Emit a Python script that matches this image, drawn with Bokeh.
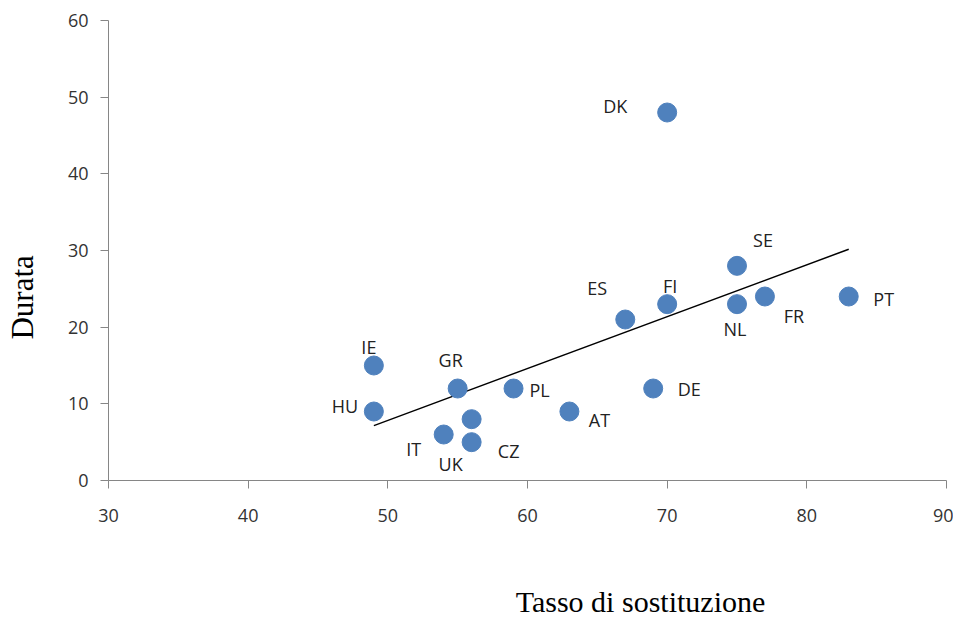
import numpy as np
from bokeh.plotting import figure
from bokeh.layouts import row, column
from bokeh.models import ColumnDataSource, Range1d, FixedTicker
from bokeh.embed import file_html
from bokeh.resources import INLINE
from bokeh.core.properties import value

# ---- data ----
countries = ["DK", "SE", "FI", "NL", "FR", "PT", "ES", "DE", "AT", "PL", "GR", "IE", "HU", "IT", "UK", "CZ"]
tasso = [70, 75, 70, 75, 77, 83, 67, 69, 63, 59, 55, 49, 49, 54, 56, 56]
durata = [48, 28, 23, 23, 24, 24, 21, 12, 9, 12, 12, 15, 9, 6, 5, 8]
x_ticks = [30, 40, 50, 60, 70, 80, 90]
y_ticks = [0, 10, 20, 30, 40, 50, 60]
x_title = "Tasso di sostituzione"
y_title = "Durata"

# label placement (screen px, relative to point; positive dy = down)
label_dx = [-52, 26, 3, -2, 29, 35, -28, 36, 30, 26, -7, -5, -29, -30, -21, 37]
label_dy = [-7, -26, -18, 25, 19, 2, -32, 0, 8, 1, -29, -19, -6, 14, 22, 32]

# trend line (OLS, as Excel's linear trendline)
slope, intercept = np.polyfit(tasso, durata, 1)
tx = [min(tasso), max(tasso)]
ty = [slope * v + intercept for v in tx]

src = ColumnDataSource(dict(x=tasso, y=durata, name=countries, dx=label_dx, dy=label_dy))

LEFT_W = 40
MAIN_W = 913
MAIN_H = 540
TOTAL_W = LEFT_W + MAIN_W
BOTTOM_H = 80

p = figure(width=MAIN_W, height=MAIN_H, output_backend="svg", toolbar_location=None,
           x_range=Range1d(30, 90), y_range=Range1d(0, 60),
           min_border_left=68, min_border_top=20, min_border_right=7, min_border_bottom=60)
p.outline_line_color = None
p.xgrid.visible = False
p.ygrid.visible = False

for ax, ticks in ((p.xaxis[0], x_ticks), (p.yaxis[0], y_ticks)):
    ax.ticker = FixedTicker(ticks=ticks)
    ax.axis_line_color = "#868686"
    ax.major_tick_line_color = "#868686"
    ax.major_tick_out = 8
    ax.major_tick_in = 0
    ax.minor_tick_line_color = None
    ax.major_label_text_font = "Open Sans"
    ax.major_label_text_font_size = "18px"
    ax.major_label_text_color = "#333333"
p.xaxis.major_label_standoff = 20
p.yaxis.major_label_standoff = 12

p.line(tx, ty, line_color="black", line_width=1.5)
p.scatter("x", "y", source=src, size=19, fill_color="#4F81BD", line_color="#4F81BD")
p.text("x", "y", text="name", source=src, x_offset="dx", y_offset="dy",
       text_align="center", text_baseline="middle",
       text_font=value("Open Sans"), text_font_size="18px", text_color="#222222")


def title_fig(w, h):
    f = figure(width=w, height=h, output_backend="svg", toolbar_location=None,
               x_range=Range1d(0, w), y_range=Range1d(0, h),
               x_axis_location=None, y_axis_location=None,
               min_border=0, min_border_left=0, min_border_right=0,
               min_border_top=0, min_border_bottom=0)
    f.outline_line_color = None
    f.xgrid.visible = False
    f.ygrid.visible = False
    return f


# y title (rotated, reads bottom to top)
fy = title_fig(LEFT_W, MAIN_H)
fy.text(x=[22], y=[215], text=[y_title], angle=np.pi / 2, text_align="center",
        text_baseline="middle", text_font=value("Liberation Serif"),
        text_font_size="31px", text_color="black")

# x title
fx = title_fig(TOTAL_W, BOTTOM_H)
fx.text(x=[640], y=[19], text=[x_title], text_align="center", text_baseline="middle",
        text_font=value("Liberation Serif"), text_font_size="30px", text_color="black")

layout = column(row(fy, p, spacing=0), fx, spacing=0)

open("out.html", "w").write(file_html(layout, INLINE))
